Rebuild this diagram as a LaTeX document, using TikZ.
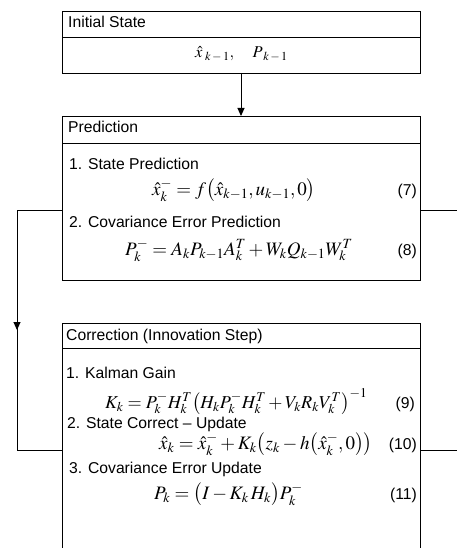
\documentclass[tikz,border=0pt]{standalone}
\usepackage{mathptmx}
\usepackage[no-math]{fontspec}
\setmainfont{Liberation Sans}
\usetikzlibrary{arrows.meta,calc}
\begin{document}
\begin{tikzpicture}[x=1pt,y=-1pt,
  box/.style={draw, line width=0.9pt, inner sep=0pt, outer sep=0pt, anchor=north west, minimum width=358pt},
  lbl/.style={inner sep=0pt, anchor=base west, font=\fontsize{15.7}{19}\selectfont},
  eqn/.style={inner sep=0pt, anchor=base west, font=\fontsize{19}{22}\selectfont},
  num/.style={inner sep=0pt, anchor=base east, font=\fontsize{15.7}{19}\selectfont},
  wire/.style={line width=0.9pt},
  arr/.style={wire, -{Triangle[length=8pt,width=7pt]}}]
\useasboundingbox (0,0) rectangle (457,548);
\clip (0,0) rectangle (457,548);

% boxes
\node[box, minimum height=62pt] (init) at (62,11) {};
\draw[wire] (init.west |- 0,37) -- (init.east |- 0,37);
\node[box, minimum height=164pt] (pred) at (62,116) {};
\draw[wire] (pred.west |- 0,143) -- (pred.east |- 0,143);
\node[inner sep=0pt, outer sep=0pt, anchor=north west, minimum width=358pt, minimum height=240pt] (corr) at (62,323) {};
\draw[wire] (corr.south west) -- (corr.north west) -- (corr.north east) -- (corr.south east);
\draw[wire] (corr.west |- 0,348) -- (corr.east |- 0,348);

% texts
\node[lbl] (tinit) at (68,28) {Initial State};
\node[eqn, font=\fontsize{16.5}{20}\selectfont] (minit) at (195,58) {$\hat{x}_{\;k\,-\,1},\quad P_{\;k\,-\,1}$};

\node[lbl] (tpred) at (68,133) {Prediction};
\node[lbl] (t1) at (69,169) {1. State Prediction};
\node[eqn] (e7) at (152,195) {$\hat{x}_k^- = f\bigl(\hat{x}_{k-1}, u_{k-1}, 0\bigr)$};
\node[num] (n7) at (417,195) {(7)};
\node[lbl] (t2) at (69,227) {2. Covariance Error Prediction};
\node[eqn] (e8) at (125,255) {$P_k^- = A_k P_{k-1} A_k^T + W_k Q_{k-1} W_k^T$};
\node[num] (n8) at (417,255) {(8)};

\node[lbl] (tcorr) at (66,340) {Correction (Innovation Step)};
\node[lbl] (t3) at (66,378) {1. Kalman Gain};
\node[eqn, font=\fontsize{18.2}{21}\selectfont] (e9) at (105,408) {$K_k = P_k^- H_k^T \bigl(H_k P_k^- H_k^T + V_k R_k V_k^T\bigr)^{-1}$};
\node[num] (n9) at (415,408) {(9)};
\node[lbl] (t4) at (67,428) {2. State Correct -- Update};
\node[eqn] (e10) at (159,449) {$\hat{x}_k = \hat{x}_k^- + K_k\bigl(z_k - h\bigl(\hat{x}_k^-, 0\bigr)\bigr)$};
\node[num] (n10) at (417,449) {(10)};
\node[lbl] (t5) at (69,473) {3. Covariance Error Update};
\node[eqn] (e11) at (154,499) {$P_k = \bigl(I - K_k\, H_k\bigr) P_k^-$};
\node[num] (n11) at (417,499) {(11)};

% connectors
\draw[arr] (init.south) -- (pred.north);
\coordinate (predL) at (62,210);
\coordinate (bendA) at (17,210);
\coordinate (bendB) at (17,450);
\coordinate (corrL) at (62,450);
\draw[wire] (predL) -- (bendA) -- (bendB) -- (corrL);
\draw[arr] (bendA) -- ($(bendA)!0.5!(bendB)$);
\coordinate (predR) at (420,210);
\coordinate (predRout) at (457,210);
\draw[wire] (predR) -- (predRout);
\coordinate (corrR) at (420,450);
\coordinate (corrRout) at (457,450);
\draw[wire] (corrR) -- (corrRout);
\end{tikzpicture}
\end{document}
